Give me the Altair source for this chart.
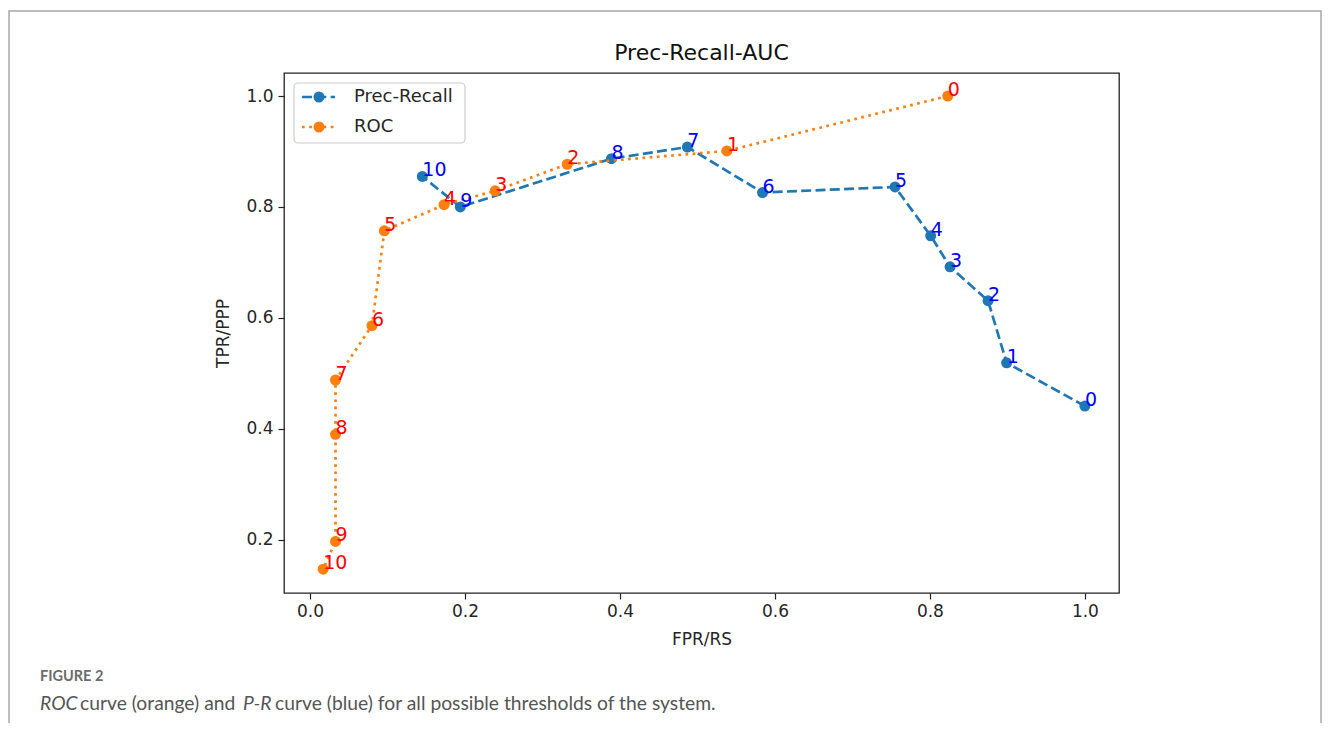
import altair as alt
import pandas as pd

# ---- data ----
thresholds = list(range(11))
pr_recall = [1.0, 0.899, 0.875, 0.826, 0.801, 0.755, 0.584, 0.487, 0.389, 0.194, 0.145]
pr_precision = [0.441, 0.519, 0.631, 0.692, 0.748, 0.836, 0.826, 0.908, 0.887, 0.800, 0.855]
roc_fpr = [0.823, 0.538, 0.332, 0.239, 0.173, 0.096, 0.080, 0.033, 0.033, 0.033, 0.017]
roc_tpr = [1.0, 0.901, 0.877, 0.829, 0.804, 0.757, 0.586, 0.488, 0.390, 0.197, 0.147]
x_ticks = [0.0, 0.2, 0.4, 0.6, 0.8, 1.0]
y_ticks = [0.2, 0.4, 0.6, 0.8, 1.0]
series_names = ["Prec-Recall", "ROC"]
chart_title = "Prec-Recall-AUC"
x_title = "FPR/RS"
y_title = "TPR/PPP"
fig_label = "FIGURE 2"
caption_parts = [
    ("ROC", "italic"),
    ("curve (orange) and", "normal"),
    ("P-R", "italic"),
    ("curve (blue) for all possible thresholds of the system.", "normal"),
]

pr_df = pd.DataFrame({"t": thresholds, "x": pr_recall, "y": pr_precision,
                      "lab": [str(i) for i in thresholds]})
roc_df = pd.DataFrame({"t": thresholds, "x": roc_fpr, "y": roc_tpr,
                       "lab": [str(i) for i in thresholds]})

BLUE = "#1f77b4"
ORANGE = "#ff7f0e"
FONT = "DejaVu Sans"
W, H = 835, 520

xenc = alt.X("x:Q", scale=alt.Scale(domain=[-0.0335, 1.044], nice=False, zero=False),
             axis=alt.Axis(values=x_ticks, format=".1f", title=x_title, grid=False,
                           domain=False, tickSize=6, tickColor="#222", tickWidth=1.2,
                           labelFontSize=17, labelFont=FONT, labelColor="#262626",
                           labelPadding=4, titleFont=FONT, titleFontSize=17,
                           titleFontWeight="normal", titleColor="#262626",
                           titlePadding=12))
yenc = alt.Y("y:Q", scale=alt.Scale(domain=[0.104, 1.0415], nice=False, zero=False),
             axis=alt.Axis(values=y_ticks, format=".1f", title=y_title, grid=False,
                           domain=False, tickSize=6, tickColor="#222", tickWidth=1.2,
                           labelFontSize=17, labelFont=FONT, labelColor="#262626",
                           labelPadding=5, titleFont=FONT, titleFontSize=17,
                           titleFontWeight="normal", titleColor="#262626",
                           titlePadding=13))

pr_line = alt.Chart(pr_df).mark_line(color=BLUE, strokeWidth=2.7, strokeDash=[10, 4.3]).encode(
    x=xenc, y=yenc, order="t:Q")
pr_pts = alt.Chart(pr_df).mark_circle(color=BLUE, size=121, opacity=1).encode(x=xenc, y=yenc)
roc_line = alt.Chart(roc_df).mark_line(color=ORANGE, strokeWidth=2.7, strokeDash=[2.7, 4.5]).encode(
    x=xenc, y=yenc, order="t:Q")
roc_pts = alt.Chart(roc_df).mark_circle(color=ORANGE, size=121, opacity=1).encode(x=xenc, y=yenc)
pr_txt = alt.Chart(pr_df).mark_text(color="#0000ff", fontSize=19, font=FONT, align="left",
                                    baseline="alphabetic").encode(x=xenc, y=yenc, text="lab:N")
roc_txt = alt.Chart(roc_df).mark_text(color="#ff0000", fontSize=19, font=FONT, align="left",
                                      baseline="alphabetic").encode(x=xenc, y=yenc, text="lab:N")

one = pd.DataFrame({"k": [0]})

title_mark = alt.Chart(one).mark_text(fontSize=22, font=FONT, color="#111", align="center",
                                      baseline="middle").encode(
    x=alt.value(W / 2), y=alt.value(-20), text=alt.value(chart_title))

frame = alt.Chart(one).mark_rect(fillOpacity=0, stroke="#a8a8a8", strokeWidth=1.5).encode(
    x=alt.value(-275), x2=alt.value(1037), y=alt.value(-62), y2=alt.value(760))

# legend
leg_box = alt.Chart(one).mark_rect(fill="white", fillOpacity=0.8, stroke="#cccccc",
                                   strokeWidth=1.2, cornerRadius=4).encode(
    x=alt.value(10), x2=alt.value(181), y=alt.value(10), y2=alt.value(70))
leg_l1 = alt.Chart(one).mark_rule(color=BLUE, strokeWidth=2.7, strokeDash=[10, 4.3]).encode(
    x=alt.value(18), x2=alt.value(51), y=alt.value(24))
leg_p1 = alt.Chart(one).mark_circle(color=BLUE, size=121, opacity=1).encode(
    x=alt.value(35), y=alt.value(24))
leg_t1 = alt.Chart(one).mark_text(fontSize=18, font=FONT, color="#262626", align="left",
                                  baseline="middle").encode(
    x=alt.value(70), y=alt.value(24), text=alt.value(series_names[0]))
leg_l2 = alt.Chart(one).mark_rule(color=ORANGE, strokeWidth=2.7, strokeDash=[2.7, 4.5]).encode(
    x=alt.value(18), x2=alt.value(51), y=alt.value(54))
leg_p2 = alt.Chart(one).mark_circle(color=ORANGE, size=121, opacity=1).encode(
    x=alt.value(35), y=alt.value(54))
leg_t2 = alt.Chart(one).mark_text(fontSize=18, font=FONT, color="#262626", align="left",
                                  baseline="middle").encode(
    x=alt.value(70), y=alt.value(54), text=alt.value(series_names[1]))

# caption
fig_mark = alt.Chart(one).mark_text(fontSize=14.5, font="Lato", fontWeight="bold", color="#6b6b6b",
                                    align="left", baseline="middle").encode(
    x=alt.value(-244), y=alt.value(604), text=alt.value(fig_label))
cap_x = [-244, -204, -41, -9]
cap_layers = []
for (txt, style), cx in zip(caption_parts, cap_x):
    cap_layers.append(
        alt.Chart(one).mark_text(fontSize=19.3, font="Lato", fontStyle=style, color="#555555",
                                 align="left", baseline="middle").encode(
            x=alt.value(cx), y=alt.value(631), text=alt.value(txt)))

chart = alt.layer(
    frame, pr_line, pr_pts, roc_line, roc_pts, pr_txt, roc_txt, title_mark,
    leg_box, leg_l1, leg_p1, leg_t1, leg_l2, leg_p2, leg_t2, fig_mark, *cap_layers
).properties(
    width=W, height=H,
    padding={"left": 276, "top": 65, "right": 204, "bottom": 130},
    autosize=alt.AutoSizeParams(type="none"),
).configure(
    background="white",
    view=alt.ViewConfig(stroke="#222222", strokeWidth=1.3),
)

chart.save("out.html", embed_options={"renderer": "svg", "actions": False})
